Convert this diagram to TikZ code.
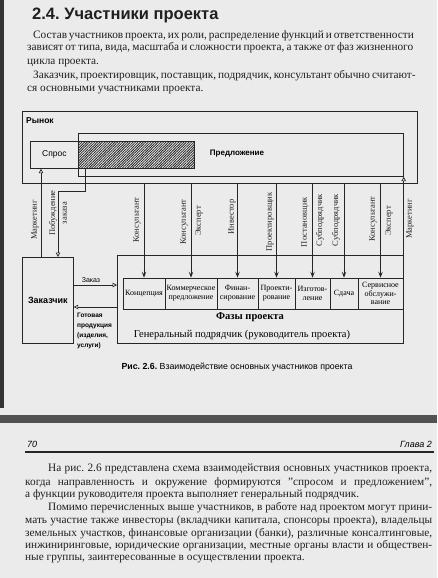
\documentclass[tikz,border=0pt]{standalone}
\usepackage{fontspec}
\setmainfont{Liberation Serif}
\setsansfont{Liberation Sans}
\usetikzlibrary{arrows.meta,patterns.meta}
\frenchspacing
\tikzset{
 ink/.style={draw=black!85, line width=0.7pt},
 box/.style={ink, rectangle, inner sep=0, anchor=north west},
 phase/.style={ink, rectangle, inner sep=0, minimum height=31pt, align=center, font=\fontsize{8}{8.8}\selectfont},
 vlab/.style={rotate=90, inner sep=0, font=\fontsize{8.5}{9}\selectfont, text=black!85},
 arr/.style={black!85, line width=0.7pt, -{Stealth[length=6pt,width=4.5pt,inset=2.5pt]}},
 oarr/.style={black!85, line width=0.7pt, -{Triangle[open,length=4.5pt,width=4.5pt]}},
 body/.style={anchor=base west, inner sep=0, font=\fontsize{11.3}{13}\selectfont, text=black!88},
}
\begin{document}
\begin{tikzpicture}[x=1pt,y=-1pt]
\useasboundingbox (0,0) rectangle (437,578);
\fill[black!8] (0,0) rectangle (437,578);
% page edge and gap
\fill[black!80] (0,0) rectangle (3.5,408);
\fill[black!68] (0,415) rectangle (437,423);

% title and upper text
\node[anchor=base west, inner sep=0, font=\sffamily\bfseries\fontsize{16.5}{18}\selectfont, text=black!88] (title) at (32,20) {2.4. Участники проекта};
\node[body] (u1) at (33,38) {\makebox[380pt][s]{Состав участников проекта, их роли, распределение функций и ответственности}};
\node[body] (u2) at (27,51) {\makebox[386pt][s]{зависят от типа, вида, масштаба и сложности проекта, а также от фаз жизненного}};
\node[body] (u3) at (27,64) {цикла проекта.};
\node[body] (u4) at (33,78) {\makebox[380pt][s]{Заказчик, проектировщик, поставщик, подрядчик, консультант обычно считают-}};
\node[body] (u5) at (27,91) {ся основными участниками проекта.};

% market
\node[box, minimum width=395pt, minimum height=72pt] (rynok) at (22,111) {};
\node[anchor=west, inner sep=0, font=\sffamily\bfseries\fontsize{8.5}{10}\selectfont] (rynoklab) at (26,121) {Рынок};
\node[box, minimum width=325pt, minimum height=43pt] (predl) at (78,133) {};
\node[box, minimum width=116pt, minimum height=27pt, fill=black!25, pattern={Lines[angle=45,distance=1.8pt,line width=0.8pt]}, pattern color=black!85] (hatch) at (78,141) {};
\node[box, minimum width=48pt, minimum height=27pt, font=\sffamily\fontsize{8.5}{10}\selectfont] (spros) at (30,141) {Спрос};
\node[inner sep=0, font=\sffamily\bfseries\fontsize{8}{10}\selectfont] (predlab) at (237,154) {Предложение};

% customer
\node[box, minimum width=51pt, minimum height=86pt, font=\sffamily\bfseries\fontsize{9}{10}\selectfont] (zak) at (22,257) {Заказчик};

% general contractor
\node[box, minimum width=286pt, minimum height=88pt] (gen) at (117,255) {};
\node[phase, minimum width=42pt] (p1) at (144,293.5) {Концепция};
\node[phase, minimum width=52pt] (p2) at (191,293.5) {Коммерческое\\предложение};
\node[phase, minimum width=41pt] (p3) at (237.5,293.5) {Финан-\\сирование};
\node[phase, minimum width=37pt] (p4) at (276.5,293.5) {Проекти-\\рование};
\node[phase, minimum width=35pt] (p5) at (312.5,293.5) {Изготов-\\ление};
\node[phase, minimum width=28pt] (p6) at (344,293.5) {Сдача};
\node[phase, minimum width=45pt] (p7) at (380.5,293.5) {Сервисное\\обслужи-\\вание};
\node[inner sep=0, font=\bfseries\fontsize{10.5}{12}\selectfont] (fazy) at (250,317) {Фазы проекта};
\node[inner sep=0, font=\fontsize{10.5}{12}\selectfont] (genlab) at (242,335) {Генеральный подрядчик (руководитель проекта)};

% connectors
\coordinate (mL) at (41,0);
\coordinate (pb) at (85,191);
\coordinate (pz) at (58,0);
\coordinate (yz) at (0,285);
\coordinate (yg) at (0,307);
\draw[oarr] (mL |- zak.north) -- (mL |- spros.south);
\draw[oarr] (pb |- hatch.south) -- (pb) -| (pz |- zak.north);
\draw[oarr] (gen.north east) -- (predl.south east);
\foreach \p in {p1,p2,p3,p4,p5,p6,p7}{
  \draw[arr] (\p.north |- rynok.south) -- (\p.north);
}
\draw[oarr] (zak.east |- yz) -- (gen.west |- yz);
\draw[oarr] (gen.west |- yg) -- (zak.east |- yg);

% vertical labels
\node[vlab] (lm1) at (35,220) {Маркетинг};
\node[vlab] (lp1) at (53,213) {Побуждение};
\node[vlab] (lp2) at (65,213) {заказа};
\node[vlab] (lk1) at (137,220) {Консультант};
\node[vlab] (lk2) at (184,222) {Консультант};
\node[vlab] (le1) at (199,221) {Эксперт};
\node[vlab] (li) at (232,217) {Инвестор};
\node[vlab] (lpr) at (270,222) {Проектировщик};
\node[vlab] (lpo) at (305,222) {Постановщик};
\node[vlab] (ls1) at (320,220) {Субподрядчик};
\node[vlab] (ls2) at (336,220) {Субподрядчик};
\node[vlab] (lk3) at (373,219) {Консультант};
\node[vlab] (le2) at (389,221) {Эксперт};
\node[vlab] (lm2) at (410,219) {Маркетинг};

% arrow labels
\node[inner sep=0, font=\sffamily\fontsize{7}{8}\selectfont] (zlab) at (91,280) {Заказ};
\node[anchor=north west, inner sep=0, align=left, font=\sffamily\bfseries\fontsize{6.5}{10}\selectfont] (glab) at (77,313) {Готовая\\продукция\\(изделия,\\услуги)};

% caption
\node[inner sep=0, font=\sffamily\fontsize{8.8}{10}\selectfont] (cap) at (237,367) {\textbf{Рис. 2.6.} Взаимодействие основных участников проекта};

% lower page
\node[anchor=base west, inner sep=0, font=\sffamily\itshape\fontsize{9}{10}\selectfont] (pg) at (27,447) {70};
\node[anchor=base east, inner sep=0, font=\sffamily\itshape\fontsize{9}{10}\selectfont] (ch) at (432,447) {Глава 2};
\draw[black!85, line width=1.2pt] (25,452) -- (434,452);
\node[body] (l1) at (48,471) {\makebox[384pt][s]{На рис. 2.6 представлена схема взаимодействия основных участников проекта,}};
\node[body] (l2) at (25,485) {\makebox[407pt][s]{когда направленность и окружение формируются "спросом и предложением",}};
\node[body] (l3) at (25,497) {а функции руководителя проекта выполняет генеральный подрядчик.};
\node[body] (l4) at (48,510) {\makebox[384pt][s]{Помимо перечисленных выше участников, в работе над проектом могут прини-}};
\node[body] (l5) at (25,523) {\makebox[407pt][s]{мать участие также инвесторы (вкладчики капитала, спонсоры проекта), владельцы}};
\node[body] (l6) at (25,536) {\makebox[407pt][s]{земельных участков, финансовые организации (банки), различные консалтинговые,}};
\node[body] (l7) at (25,548) {\makebox[407pt][s]{инжиниринговые, юридические организации, местные органы власти и обществен-}};
\node[body] (l8) at (25,560) {ные группы, заинтересованные в осуществлении проекта.};
\end{tikzpicture}
\end{document}
